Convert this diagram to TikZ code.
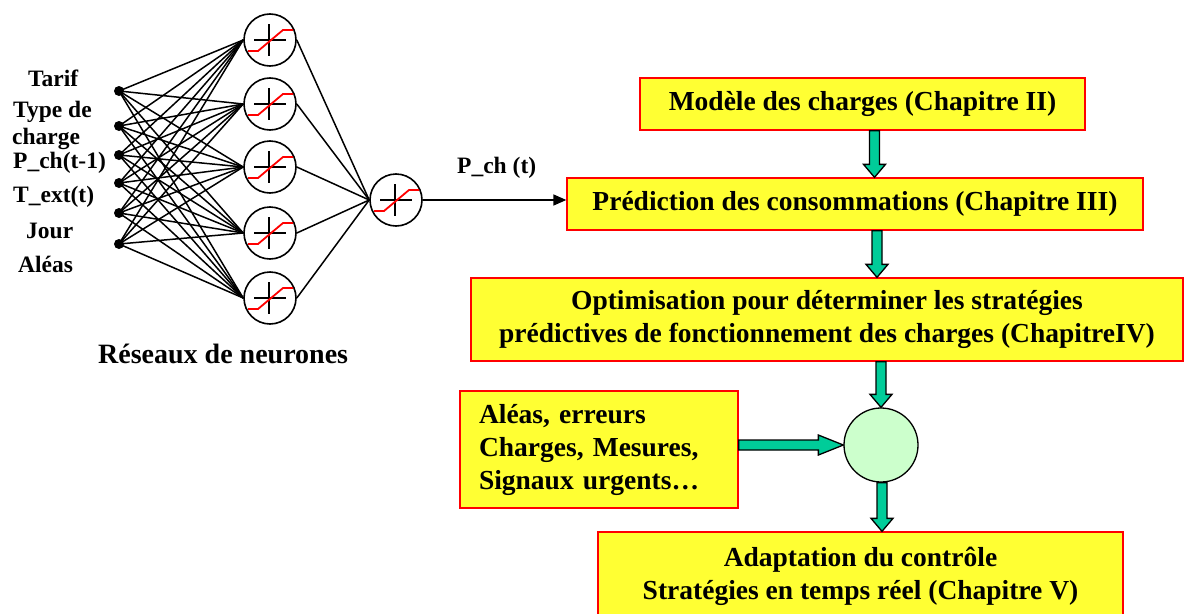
\documentclass[tikz,border=0pt]{standalone}
\usepackage{fontspec}
\setmainfont{Liberation Serif}
\usetikzlibrary{calc,arrows.meta}
\definecolor{boxyellow}{HTML}{FFFF33}
\definecolor{boxred}{HTML}{FF0000}
\definecolor{arrteal}{HTML}{00CC99}
\definecolor{circgreen}{HTML}{CCFFCC}
\definecolor{sigred}{HTML}{FF0000}
\newcommand\vblock[2]{\filldraw[garrow] ($(#1)+(-5,0)$) -- ($(#1|-#2)+(-5,-13)$) -- ($(#1|-#2)+(-11,-13)$) -- (#1|-#2) -- ($(#1|-#2)+(11,-13)$) -- ($(#1|-#2)+(5,-13)$) -- ($(#1)+(5,0)$) -- cycle;}
\newcommand\hblock[2]{\filldraw[garrow] ($(#1)+(0,-5)$) -- ($(#2)+(-25,-5)$) -- ($(#2)+(-25,-10)$) -- (#2) -- ($(#2)+(-25,10)$) -- ($(#2)+(-25,5)$) -- ($(#1)+(0,5)$) -- cycle;}
\begin{document}
\begin{tikzpicture}[x=1pt,y=-1pt,
  neuron/.style={circle, draw, line width=1.6pt, minimum size=52pt, inner sep=0pt},
  dot/.style={circle, fill=black, minimum size=10pt, inner sep=0pt},
  box/.style={draw=boxred, fill=boxyellow, line width=1.3pt, inner sep=0pt, align=center,
    font=\fontsize{27.5}{33}\selectfont\bfseries},
  lab/.style={anchor=base west, inner sep=0pt, font=\fontsize{23.5}{28}\selectfont\bfseries},
  link/.style={line width=1.5pt},
  garrow/.style={fill=arrteal, draw=black, line width=1.3pt, line join=miter}]
\useasboundingbox (0,0) rectangle (1204,613);
\clip (0,0) rectangle (1204,613);
\fill[white] (0,0) rectangle (1204,613);

% input labels
\node[lab] (l1) at (28,86) {Tarif};
\node[lab] (l2) at (13,117) {Type de};
\node[lab] (l2b) at (12,144) {charge};
\node[lab] (l3) at (13,168) {P\_ch(t-1)};
\node[lab] (l4) at (13,202) {T\_ext(t)};
\node[lab] (l5) at (26,238) {Jour};
\node[lab] (l6) at (18,272) {Aléas};

% input dots
\node[dot] (i1) at (119,91) {};
\node[dot] (i2) at (119,126) {};
\node[dot] (i3) at (119,155) {};
\node[dot] (i4) at (119,183) {};
\node[dot] (i5) at (119,213) {};
\node[dot] (i6) at (119,244) {};

% hidden neurons
\node[neuron] (h1) at (270,40) {};
\node[neuron] (h2) at (270,104) {};
\node[neuron] (h3) at (270,167) {};
\node[neuron] (h4) at (270,233) {};
\node[neuron] (h5) at (270,298) {};
% output neuron
\node[neuron] (o) at (396,200) {};

\foreach \i in {1,...,6}{
  \foreach \j in {1,...,5}{
    \draw[link] (i\i.center) -- (h\j.west);
  }
}
\foreach \j in {1,...,5}{
  \draw[link] (h\j.east) -- (o.west);
}
\foreach \n in {h1,h2,h3,h4,h5,o}{
  \begin{scope}[shift={(\n.center)}]
    \draw[line width=1.4pt] (-16,0) -- (16,0);
    \draw[line width=1.4pt] (-1,-16) -- (-1,16);
    \draw[sigred, line width=1.8pt] (-22,11) -- (-12,11) -- (13,-10) -- (23,-10);
  \end{scope}
}

\node[lab, font=\fontsize{28}{32}\selectfont\bfseries] (rn) at (98,363) {Réseaux de neurones};

% boxes
\node[box, minimum width=445pt, minimum height=52pt] (b1) at (862.5,104) {Modèle des charges (Chapitre II)};
\node[box, minimum width=576pt, minimum height=52pt] (b2) at (855,204) {Prédiction des consommations (Chapitre III)};
\node[box, minimum width=712pt, minimum height=83pt] (b3) at (827,319.5) {Optimisation pour déterminer les stratégies\\prédictives de fonctionnement des charges (ChapitreIV)};
\node[box, minimum width=278pt, minimum height=117pt, text width=240pt, align=left] (b4) at (599,449.5) {Aléas, erreurs\\Charges, Mesures,\\Signaux urgents\ldots};
\node[box, minimum width=525pt, minimum height=88pt] (b5) at (860.5,576) {Adaptation du contrôle\\Stratégies en temps réel (Chapitre V)};

% green summing circle
\node[circle, draw, fill=circgreen, line width=1.3pt, minimum size=74pt, inner sep=0pt] (g) at (881,445) {};

% output arrow
\draw[link, -{Triangle[length=13pt,width=11pt]}] (o.east) -- (o.east-|b2.west);
\node[lab] (pch) at (457,173) {P\_ch (t)};

% block arrows
\coordinate (s1) at ($(b1.south)+(12,0)$);
\vblock{s1}{b2.north}
\coordinate (s2) at ($(b2.south)+(22,0)$);
\vblock{s2}{b3.north}
\coordinate (s3) at (g.north|-b3.south);
\vblock{s3}{g.north}
\coordinate (s4) at ($(g.south)+(1,0)$);
\vblock{s4}{b5.north}
\coordinate (s5) at (b4.east|-g.west);
\hblock{s5}{g.west}
\end{tikzpicture}
\end{document}
